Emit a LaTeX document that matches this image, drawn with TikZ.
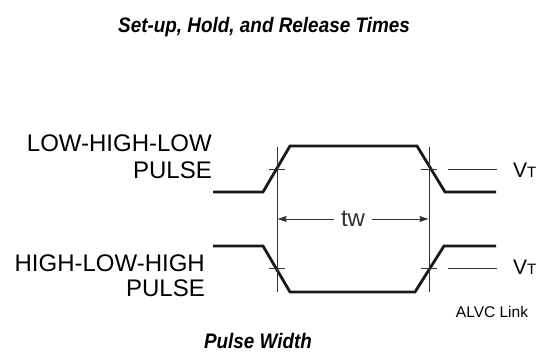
\documentclass[tikz,border=0pt]{standalone}
\usepackage{fontspec}
\setmainfont{Liberation Sans}
\usetikzlibrary{arrows.meta}

\begin{document}
\begin{tikzpicture}[
  x=1pt, y=-1pt,
  wave/.style={line width=2.8pt, line join=miter, black!90}, % signal traces
  guide/.style={line width=0.9pt, black!80},
  heading/.style={font=\fontsize{21}{24}\bfseries\itshape\selectfont, inner sep=0pt, anchor=base},
  pulse/.style={align=right, anchor=north east, inner sep=0pt},
  vt/.style={font=\fontsize{21}{21}\selectfont, anchor=base west, inner sep=0pt},
  width/.style={{Stealth[length=9pt,width=6pt,inset=1pt]}-{Stealth[length=9pt,width=6pt,inset=1pt]}, guide}
]
  \useasboundingbox (0,0) rectangle (542,358);

  \node[heading] (title) at (264,33) {\scalebox{0.9}[1]{Set-up, Hold, and Release Times}};
  \node[heading] (caption) at (258,349) {\scalebox{0.9}[1]{Pulse Width}};

  % pulse labels
  \node[pulse, font=\fontsize{24}{27}\selectfont] (lhl) at (212,134.8) {LOW-HIGH-LOW\\PULSE};
  \node[pulse, font=\fontsize{24}{25}\selectfont] (hlh) at (205,254.8) {HIGH-LOW-HIGH\\PULSE};

  % the two pulses
  \draw[wave] (213,192) -- (263,192) -- (290,146) -- (417,146) -- (445,192) -- (496,192);
  \draw[wave] (213,246) -- (263,246) -- (290,292) -- (415,292) -- (444,246) -- (496,246);

  % guides
  \coordinate (gl) at (277,219);
  \coordinate (gr) at (429,219);
  \draw[guide] (277,147) -- (277,292);
  \draw[guide] (429,147) -- (429,292);
  \foreach \y in {169,268} {
    \draw[guide] (269,\y) -- (285,\y);
    \draw[guide] (421,\y) -- (437,\y);
    \draw[guide] (448,\y) -- (497,\y);
  }

  \node[vt] (vt1) at (513,178) {V{\fontsize{15}{15}\selectfont T}};
  \node[vt] (vt2) at (513,275) {V{\fontsize{15}{15}\selectfont T}};

  \draw[width] ([xshift=0.6pt]gl) -- node[fill=white, inner xsep=7pt, inner ysep=2pt, font=\fontsize{24}{24}\selectfont] (tw) {tw} ([xshift=-0.6pt]gr);

  \node[font=\fontsize{15.5}{16}\selectfont, anchor=base, inner sep=0pt] (link) at (492,318) {ALVC Link};
\end{tikzpicture}
\end{document}
